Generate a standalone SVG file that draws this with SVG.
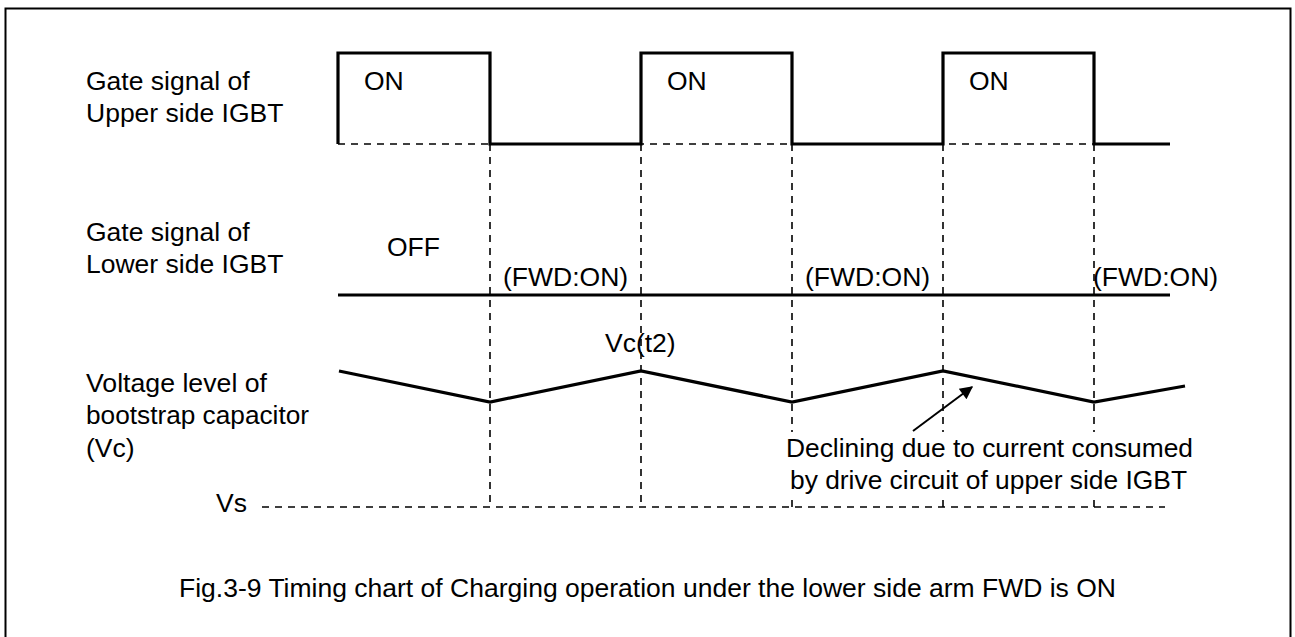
<svg xmlns="http://www.w3.org/2000/svg" width="1295" height="637" viewBox="0 0 1295 637">
<defs>
<style>
text{font-family:"Liberation Sans",Arial,sans-serif;font-size:26.5px;fill:#000}
.thick{fill:none;stroke:#000;stroke-width:3.2;stroke-linejoin:miter}
.dash{fill:none;stroke:#000;stroke-width:1.6;stroke-dasharray:7 6}
</style>
<marker id="ah" viewBox="0 0 10 10" refX="9" refY="5" markerWidth="16" markerHeight="13" markerUnits="userSpaceOnUse" orient="auto">
<path d="M0,0 L10,5 L0,10 z" fill="#000"/>
</marker>
</defs>
<rect width="1295" height="637" fill="#fff"/>
<path id="frame" d="M5.5,637 V8.5 H1290.5 V637" fill="none" stroke="#000" stroke-width="2"/>

<g id="labels">
<text x="86" y="90">Gate signal of</text>
<text x="86" y="122">Upper side IGBT</text>
<text x="86" y="241">Gate signal of</text>
<text x="86" y="273">Lower side IGBT</text>
<text x="86" y="392" textLength="181" lengthAdjust="spacingAndGlyphs">Voltage level of</text>
<text x="86" y="424" textLength="223" lengthAdjust="spacingAndGlyphs">bootstrap capacitor</text>
<text x="86" y="457">(Vc)</text>
<text x="216" y="512">Vs</text>
</g>

<g id="upper-gate">
<path class="thick" d="M338,144 V53 H490 V144 H641 V53 H792 V144 H943 V53 H1094 V144 H1170"/>
<text x="364" y="90">ON</text>
<text x="667" y="90">ON</text>
<text x="969" y="90">ON</text>
</g>

<g id="lower-gate">
<path class="thick" d="M338,295 H1170"/>
<text x="387" y="256">OFF</text>
<text x="503" y="286">(FWD:ON)</text>
<text x="805" y="286">(FWD:ON)</text>
<text x="1093" y="286">(FWD:ON)</text>
</g>

<g id="vc">
<path class="thick" d="M339,371 L490,402 L641,371 L792,402 L943,371 L1094,402 L1185,386"/>
<text x="605" y="352">Vc(t2)</text>
</g>

<g id="annotation">
<text x="786" y="457" textLength="407" lengthAdjust="spacingAndGlyphs">Declining due to current consumed</text>
<text x="790" y="489" textLength="397" lengthAdjust="spacingAndGlyphs">by drive circuit of upper side IGBT</text>
</g>

<g id="connectors">
<path class="dash" d="M338,144 H1094"/>
<path class="dash" d="M262,507 H1165"/>
<path class="dash" d="M490,144 V507 M641,144 V507 M792,144 V432 M792,500 V507 M943,144 V432 M943,500 V507 M1094,144 V432 M1094,500 V507"/>
<line x1="913" y1="431" x2="972" y2="387" stroke="#000" stroke-width="2" marker-end="url(#ah)"/>
</g>

<text id="caption" x="179" y="597" textLength="937" lengthAdjust="spacingAndGlyphs">Fig.3-9 Timing chart of Charging operation under the lower side arm FWD is ON</text>
</svg>
